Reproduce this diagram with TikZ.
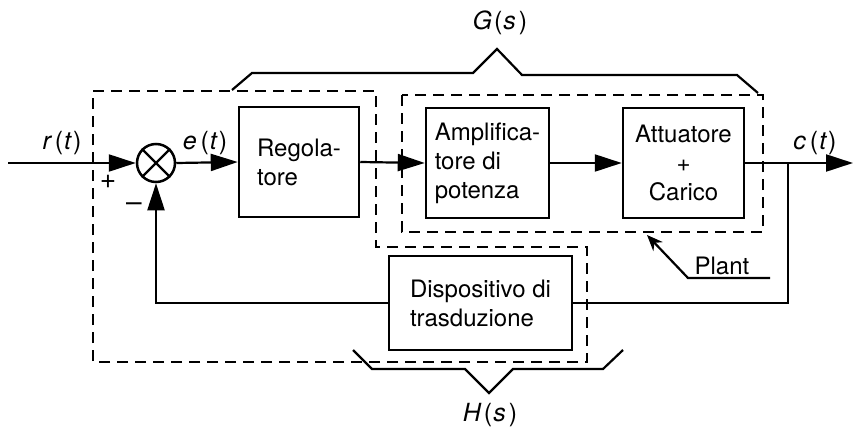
\documentclass[tikz,border=0pt]{standalone}
\usepackage{fontspec}
\setmainfont{TeX Gyre Heros}
\usetikzlibrary{arrows.meta}
\begin{document}
\begin{tikzpicture}[x=1pt,y=-1pt,
  every node/.style={font=\fontsize{24}{29}\selectfont},
  blk/.style={draw,line width=2.5pt,inner sep=0pt},
  conn/.style={line width=2.2pt},
  arr/.style={line width=2.2pt,-{Triangle[length=27pt,width=17pt]}},
  dsh/.style={line width=2.8pt,dash pattern=on 11pt off 7pt},
  lbl/.style={inner sep=0pt,font=\fontsize{25}{30}\selectfont},
  sgn/.style={inner sep=0pt,font=\fontsize{28}{30}\selectfont}]
\useasboundingbox (0,0) rectangle (853,436);
% blocks
\node[blk,circle,minimum size=38pt] (sum) at (156,163) {};
\draw[conn] (sum.north east) -- (sum.south west) (sum.north west) -- (sum.south east);
\node[blk,minimum width=120pt,minimum height=110pt,align=left] (reg) at (299,162) {Regola-\\tore};
\node[blk,minimum width=123pt,minimum height=110pt,align=left] (amp) at (487.5,163) {Amplifica-\\tore di\\potenza};
\node[blk,minimum width=121pt,minimum height=110pt,align=center] (att) at (683.5,163) {Attuatore\\+\\Carico};
\node[blk,minimum width=183pt,minimum height=94pt,align=left] (disp) at (480.5,303) {Dispositivo di\\trasduzione};
% coordinates
\coordinate (in) at (8,163);
\coordinate (out) at (853,163);
\coordinate (br) at (788,163);
% connectors
\draw[arr] (in) -- (sum.west);
\draw[arr] (sum.east) -- (reg.west);
\draw[arr] (reg.east) -- (amp.west);
\draw[arr] (amp.east) -- (att.west);
\draw[arr] (att.east) -- (out);
\draw[conn] (br) |- (disp.east);
\draw[arr] (disp.west) -| (sum.south);
% labels
\node[lbl] (rl) at (62,143) {\itshape r\kern4pt\upshape(\kern1pt\itshape t\kern2pt\upshape)};
\node[lbl] (el) at (205,143) {\itshape e\kern4pt\upshape(\kern1pt\itshape t\kern2pt\upshape)};
\node[lbl] (cl) at (815,143) {\itshape c\kern4pt\upshape(\kern1pt\itshape t\kern2pt\upshape)};
\node[sgn] (plus) at (108,182) {+};
\node[sgn] (minus) at (134,207) {–};
\node[lbl] (gl) at (500,23) {\itshape G\kern2pt\upshape(\kern1pt\itshape s\kern3pt\upshape)};
\node[lbl] (hl) at (490,415) {\itshape H\kern3pt\upshape(\kern1pt\itshape s\kern3pt\upshape)};
% dashed regions
\draw[dsh] (93,91) -- (376,91) -- (376,247) -- (587,247) -- (587,362) -- (93,362) -- cycle;
\draw[dsh] (402,95) rectangle (763,232);
% plant label
\node[inner sep=0pt] (plant) at (722,266) {Plant};
\coordinate (pl1) at (770,278);
\coordinate (pl2) at (688,278);
\coordinate (pltip) at (647,235);
\draw[conn,-{Stealth[length=16pt,width=13pt]}] (pl1) -- (pl2) -- (pltip);
% braces
\draw[conn] (232,90) -- (252,73) -- (473,73) -- (497,49) -- (522,75) -- (737,75) -- (758,93);
\draw[conn] (353,350) -- (372,369) -- (465,369) -- (489,393) -- (513,369) -- (603,369) -- (623,350);
\end{tikzpicture}
\end{document}
